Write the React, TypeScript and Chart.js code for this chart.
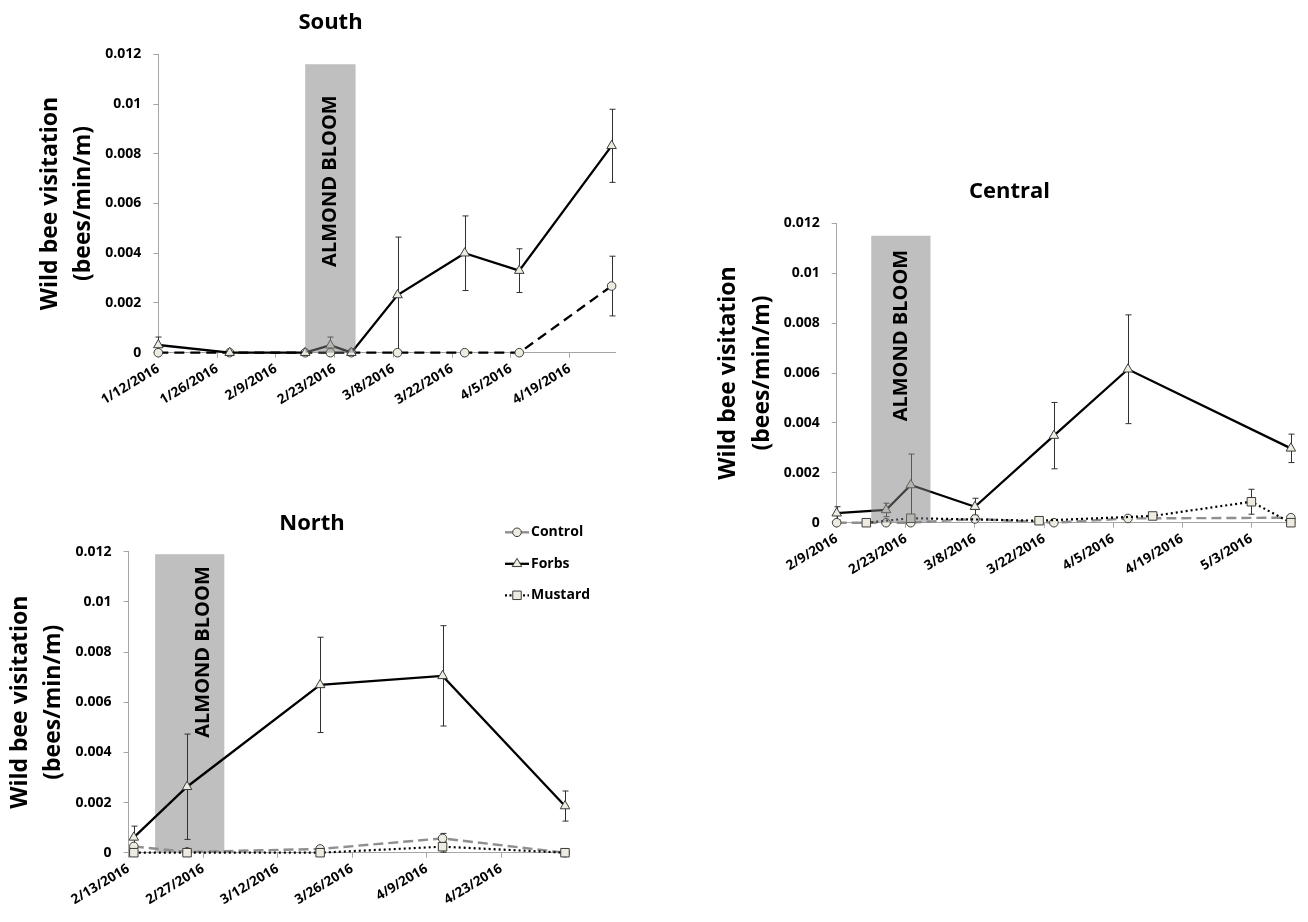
import { useEffect, useRef } from 'react';
import { Chart, registerables } from 'chart.js';

Chart.register(...registerables);

const FONT = '"Open Sans", Lato, sans-serif';

// ---------- South ----------
const southDates = ['1/12/2016', '1/29/2016', '2/16/2016', '2/22/2016', '2/27/2016', '3/9/2016', '3/25/2016', '4/7/2016', '4/29/2016'];
const southControl = [0, 0, 0, 0, 0, 0, 0, 0, 0.00268];
const southControlErr = [0, 0, 0, 0, 0, 0, 0, 0, 0.0012];
const southForbs = [0.00031, 0, 0, 0.0003, 0, 0.00232, 0.004, 0.0033, 0.00832];
const southForbsErr = [0.00032, 0, 0, 0.00033, 0, 0.00233, 0.0015, 0.00088, 0.00147];
const southTicks = ['1/12/2016', '1/26/2016', '2/9/2016', '2/23/2016', '3/8/2016', '3/22/2016', '4/5/2016', '4/19/2016'];
const southRange = ['1/12/2016', '4/30/2016'];
const southBloom = ['2/16/2016', '2/28/2016'];

// ---------- Central ----------
const centralDates = ['2/9/2016', '2/19/2016', '2/24/2016', '3/8/2016', '3/24/2016', '4/8/2016', '5/11/2016'];
const centralControl = [0, 0, 0, 0.00015, 0, 0.00017, 0.0002];
const centralControlErr = [0, 0, 0, 0, 0, 0, 0];
const centralForbs = [0.00038, 0.00051, 0.00151, 0.00064, 0.00349, 0.00615, 0.00298];
const centralForbsErr = [0.00026, 0.00027, 0.00124, 0.00034, 0.00133, 0.00218, 0.00057];
const centralMustardDates = ['2/15/2016', '2/24/2016', '3/21/2016', '4/13/2016', '5/3/2016', '5/11/2016'];
const centralMustard = [0, 0.00018, 0.00008, 0.00027, 0.00084, 0];
const centralMustardErr = [0, 0, 0, 0, 0.0005, 0];
const centralTicks = ['2/9/2016', '2/23/2016', '3/8/2016', '3/22/2016', '4/5/2016', '4/19/2016', '5/3/2016'];
const centralRange = ['2/9/2016', '5/12/2016'];
const centralBloom = ['2/16/2016', '2/28/2016'];

// ---------- North ----------
const northDates = ['2/14/2016', '2/24/2016', '3/20/2016', '4/12/2016', '5/5/2016'];
const northControl = [0.00025, 0.00003, 0.00015, 0.00057, 0];
const northControlErr = [0, 0, 0, 0.0002, 0];
const northForbs = [0.00061, 0.00263, 0.00669, 0.00705, 0.00186];
const northForbsErr = [0.00045, 0.0021, 0.0019, 0.002, 0.0006];
const northMustard = [0, 0, 0, 0.00024, 0];
const northMustardErr = [0, 0, 0, 0.00022, 0];
const northTicks = ['2/13/2016', '2/27/2016', '3/12/2016', '3/26/2016', '4/9/2016', '4/23/2016'];
const northRange = ['2/13/2016', '5/5/2016'];
const northBloom = ['2/18/2016', '3/2/2016'];

const Y_MAX = 0.012;
const Y_STEP = 0.002;
const Y_TITLE = ['Wild bee visitation', '(bees/min/m)'];
const BLOOM_TEXT = 'ALMOND BLOOM';

// ---------- styling ----------
const AXIS = '#A6A6A6';
const MARKER_FILL = '#EEECE1';
const MARKER_EDGE = '#3C3C3C';

const STYLE_FORBS = { color: '#000000', width: 2.3, dash: [] as number[], marker: 'triangle', radius: 5.5, order: 0 };
const STYLE_MUSTARD = { color: '#000000', width: 2.2, dash: [2, 3], marker: 'rect', radius: 6, order: 1 };
const STYLE_CONTROL_DARK = { color: '#000000', width: 2.3, dash: [10, 6], marker: 'circle', radius: 4.3, order: 2 };
const STYLE_CONTROL_GREY = { color: '#8F8F8F', width: 2.4, dash: [10, 5], marker: 'circle', radius: 4.3, order: 2 };

function toDay(s: string) {
  const [m, d, y] = s.split('/').map(Number);
  return Date.UTC(y, m - 1, d) / 86400000;
}

function fmtY(v: number) {
  return v === 0 ? '0' : String(Number(v.toFixed(4)));
}

type Series = {
  name: string;
  dates: string[];
  values: number[];
  errors: number[];
  style: typeof STYLE_FORBS;
};

type PanelDef = {
  title: string;
  series: Series[];
  ticks: string[];
  range: string[];
  bloom: string[];
  bloomTop: number;
  bloomLabelY: number;
  bloomLabelDx: number;
  bloomOverlay: boolean;
  showKey: boolean;
  box: { left: number; top: number; width: number; height: number };
  area: { left: number; top: number; right: number; bottom: number };
  titlePos: { x: number; y: number };
  keyPos?: { x: number; y: number; gap: number };
};

const panels: PanelDef[] = [
  {
    title: 'South',
    series: [
      { name: 'Control', dates: southDates, values: southControl, errors: southControlErr, style: STYLE_CONTROL_DARK },
      { name: 'Forbs', dates: southDates, values: southForbs, errors: southForbsErr, style: STYLE_FORBS },
    ],
    ticks: southTicks,
    range: southRange,
    bloom: southBloom,
    bloomTop: 0.0116,
    bloomLabelY: 0.0069,
    bloomLabelDx: 0,
    bloomOverlay: true,
    showKey: false,
    box: { left: 0, top: 0, width: 650, height: 410 },
    area: { left: 158.3, top: 54.3, right: 615.8, bottom: 352.7 },
    titlePos: { x: 330.5, y: 23 },
  },
  {
    title: 'Central',
    series: [
      { name: 'Control', dates: centralDates, values: centralControl, errors: centralControlErr, style: STYLE_CONTROL_GREY },
      { name: 'Forbs', dates: centralDates, values: centralForbs, errors: centralForbsErr, style: STYLE_FORBS },
      { name: 'Mustard', dates: centralMustardDates, values: centralMustard, errors: centralMustardErr, style: STYLE_MUSTARD },
    ],
    ticks: centralTicks,
    range: centralRange,
    bloom: centralBloom,
    bloomTop: 0.0115,
    bloomLabelY: 0.0075,
    bloomLabelDx: 0,
    bloomOverlay: true,
    showKey: false,
    box: { left: 700, top: 170, width: 608, height: 450 },
    area: { left: 136.7, top: 53.3, right: 595.8, bottom: 352.7 },
    titlePos: { x: 309.5, y: 21.7 },
  },
  {
    title: 'North',
    series: [
      { name: 'Control', dates: northDates, values: northControl, errors: northControlErr, style: STYLE_CONTROL_GREY },
      { name: 'Forbs', dates: northDates, values: northForbs, errors: northForbsErr, style: STYLE_FORBS },
      { name: 'Mustard', dates: northDates, values: northMustard, errors: northMustardErr, style: STYLE_MUSTARD },
    ],
    ticks: northTicks,
    range: northRange,
    bloom: northBloom,
    bloomTop: 0.0119,
    bloomLabelY: 0.008,
    bloomLabelDx: 14,
    bloomOverlay: false,
    showKey: true,
    box: { left: 0, top: 500, width: 640, height: 422 },
    area: { left: 128.5, top: 51.7, right: 565, bottom: 352.7 },
    titlePos: { x: 312, y: 23.3 },
    keyPos: { x: 517, y: 32.3, gap: 31.5 },
  },
];

function drawMarker(ctx: CanvasRenderingContext2D, style: string, x: number, y: number, r: number) {
  ctx.save();
  ctx.setLineDash([]);
  ctx.fillStyle = MARKER_FILL;
  ctx.strokeStyle = MARKER_EDGE;
  ctx.lineWidth = 1;
  ctx.beginPath();
  if (style === 'circle') {
    ctx.arc(x, y, r, 0, Math.PI * 2);
  } else if (style === 'triangle') {
    for (let k = 0; k < 3; k++) {
      const a = (k * 2 * Math.PI) / 3;
      const px = x + Math.sin(a) * r;
      const py = y - Math.cos(a) * r;
      if (k === 0) ctx.moveTo(px, py);
      else ctx.lineTo(px, py);
    }
    ctx.closePath();
  } else {
    const h = r * Math.SQRT1_2;
    ctx.rect(x - h, y - h, 2 * h, 2 * h);
  }
  ctx.fill();
  ctx.stroke();
  ctx.restore();
}

// Bloom band, error bars, panel heading and series key
const decor = {
  id: 'decor',
  beforeDatasetsDraw(chart: any, _args: any, opts: any) {
    const { ctx, scales } = chart;
    const xs = scales.x;
    const ys = scales.y;
    if (!opts.bloomOverlay) {
      const x0 = xs.getPixelForValue(opts.bloomFrom);
      const x1 = xs.getPixelForValue(opts.bloomTo);
      const yt = ys.getPixelForValue(opts.bloomTop);
      const yb = ys.getPixelForValue(0);
      ctx.save();
      ctx.fillStyle = '#BFBFBF';
      ctx.fillRect(x0, yt, x1 - x0, yb - yt);
      ctx.restore();
    }
    chart.data.datasets.forEach((ds: any, i: number) => {
      const meta = chart.getDatasetMeta(i);
      const errs: number[] = ds.errors || [];
      ctx.save();
      ctx.strokeStyle = '#303030';
      ctx.lineWidth = 1;
      meta.data.forEach((pt: any, j: number) => {
        const e = errs[j];
        if (!e) return;
        const v = ds.data[j].y;
        const yt = ys.getPixelForValue(v + e);
        const yb = ys.getPixelForValue(Math.max(v - e, 0));
        const px = Math.round(pt.x) + 0.5;
        ctx.beginPath();
        ctx.moveTo(px, yt);
        ctx.lineTo(px, yb);
        ctx.moveTo(px - 3, yt);
        ctx.lineTo(px + 3, yt);
        ctx.moveTo(px - 3, yb);
        ctx.lineTo(px + 3, yb);
        ctx.stroke();
      });
      ctx.restore();
    });
  },
  afterDatasetsDraw(chart: any, _args: any, opts: any) {
    const { ctx, scales } = chart;
    const xs = scales.x;
    const ys = scales.y;
    const x0 = xs.getPixelForValue(opts.bloomFrom);
    const x1 = xs.getPixelForValue(opts.bloomTo);
    if (opts.bloomOverlay) {
      const yt = ys.getPixelForValue(opts.bloomTop);
      const yb = ys.getPixelForValue(0);
      ctx.save();
      ctx.fillStyle = 'rgba(128,128,128,0.5)';
      ctx.fillRect(x0, yt, x1 - x0, yb - yt);
      ctx.restore();
    }
    ctx.save();
    ctx.translate((x0 + x1) / 2 + opts.bloomLabelDx, ys.getPixelForValue(opts.bloomLabelY));
    ctx.rotate(-Math.PI / 2);
    ctx.font = `bold 20px ${FONT}`;
    ctx.fillStyle = '#000';
    ctx.textAlign = 'center';
    ctx.textBaseline = 'middle';
    ctx.fillText(opts.bloomText, 0, 0);
    ctx.restore();

    ctx.save();
    ctx.font = `bold 22px ${FONT}`;
    ctx.fillStyle = '#000';
    ctx.textAlign = 'center';
    ctx.textBaseline = 'middle';
    ctx.fillText(opts.title, opts.titleX, opts.titleY);
    ctx.restore();

    if (opts.showKey) {
      chart.data.datasets.forEach((ds: any, i: number) => {
        const cy = opts.keyY + i * opts.keyGap;
        const cx = opts.keyX;
        ctx.save();
        ctx.strokeStyle = ds.borderColor;
        ctx.lineWidth = ds.borderWidth;
        ctx.setLineDash(ds.pointStyle === 'rect' ? [2, 2.5] : []);
        ctx.beginPath();
        ctx.moveTo(cx - 12, cy);
        ctx.lineTo(cx + 12, cy);
        ctx.stroke();
        ctx.restore();
        drawMarker(ctx, ds.pointStyle, cx, cy, ds.pointRadius);
        ctx.save();
        ctx.font = `bold 14px ${FONT}`;
        ctx.fillStyle = '#000';
        ctx.textAlign = 'left';
        ctx.textBaseline = 'middle';
        ctx.fillText(ds.label, cx + 14, cy);
        ctx.restore();
      });
    }
  },
};

function buildConfig(p: PanelDef): any {
  const A = p.area;
  const B = p.box;
  const lineH = 23 * 1.45;
  return {
    type: 'line',
    data: {
      datasets: p.series.map((s) => ({
        label: s.name,
        data: s.dates.map((d, i) => ({ x: toDay(d), y: s.values[i] })),
        errors: s.errors,
        borderColor: s.style.color,
        borderWidth: s.style.width,
        borderDash: s.style.dash,
        pointStyle: s.style.marker,
        pointRadius: s.style.radius,
        pointHoverRadius: s.style.radius,
        pointBackgroundColor: MARKER_FILL,
        pointBorderColor: MARKER_EDGE,
        pointBorderWidth: 1,
        fill: false,
        tension: 0,
        clip: false,
        order: s.style.order,
      })),
    },
    options: {
      responsive: false,
      animation: false,
      events: [],
      layout: { padding: { left: 0, top: A.top, right: B.width - A.right, bottom: 0 } },
      scales: {
        x: {
          type: 'linear',
          min: toDay(p.range[0]),
          max: toDay(p.range[1]),
          afterBuildTicks: (axis: any) => {
            axis.ticks = p.ticks.map((t) => ({ value: toDay(t) }));
          },
          afterFit: (axis: any) => {
            axis.height = B.height - A.bottom;
          },
          ticks: {
            autoSkip: false,
            minRotation: 31,
            maxRotation: 31,
            padding: 3,
            color: '#000',
            font: { family: FONT, size: 13.5, weight: 'bold' },
            callback: (_v: any, i: number) => p.ticks[i],
          },
          grid: { drawOnChartArea: false, drawTicks: true, tickLength: 5, color: AXIS },
          border: { color: AXIS, width: 1 },
        },
        y: {
          type: 'linear',
          min: 0,
          max: Y_MAX,
          afterFit: (axis: any) => {
            axis.width = A.left;
          },
          ticks: {
            stepSize: Y_STEP,
            padding: 12,
            color: '#000',
            font: { family: FONT, size: 14, weight: 'bold' },
            callback: (v: number) => fmtY(v),
          },
          grid: { drawOnChartArea: false, drawTicks: true, tickLength: 5, color: AXIS },
          border: { color: AXIS, width: 1 },
          title: {
            display: true,
            text: Y_TITLE,
            color: '#000',
            font: { family: FONT, size: 23, weight: 'bold', lineHeight: 1.45 },
            padding: { top: A.left - 108 - lineH / 2, bottom: 0 },
          },
        },
      },
      plugins: {
        legend: { display: false },
        tooltip: { enabled: false },
        decor: {
          bloomFrom: toDay(p.bloom[0]),
          bloomTo: toDay(p.bloom[1]),
          bloomTop: p.bloomTop,
          bloomLabelY: p.bloomLabelY,
          bloomLabelDx: p.bloomLabelDx,
          bloomOverlay: p.bloomOverlay,
          bloomText: BLOOM_TEXT,
          title: p.title,
          titleX: p.titlePos.x,
          titleY: p.titlePos.y,
          showKey: p.showKey,
          keyX: p.keyPos ? p.keyPos.x : 0,
          keyY: p.keyPos ? p.keyPos.y : 0,
          keyGap: p.keyPos ? p.keyPos.gap : 0,
        },
      },
    },
    plugins: [decor],
  };
}

function Panel({ panel }: { panel: PanelDef }) {
  const ref = useRef<HTMLCanvasElement>(null);
  useEffect(() => {
    const chart = new Chart(ref.current as HTMLCanvasElement, buildConfig(panel));
    return () => chart.destroy();
  }, [panel]);
  const b = panel.box;
  return (
    <canvas
      ref={ref}
      width={b.width}
      height={b.height}
      style={{ position: 'absolute', left: b.left, top: b.top, width: b.width, height: b.height }}
    />
  );
}

export default function App() {
  return (
    <div style={{ position: 'absolute', left: 0, top: 0, width: 1308, height: 922, background: '#fff' }}>
      {panels.map((p) => (
        <Panel key={p.title} panel={p} />
      ))}
    </div>
  );
}
